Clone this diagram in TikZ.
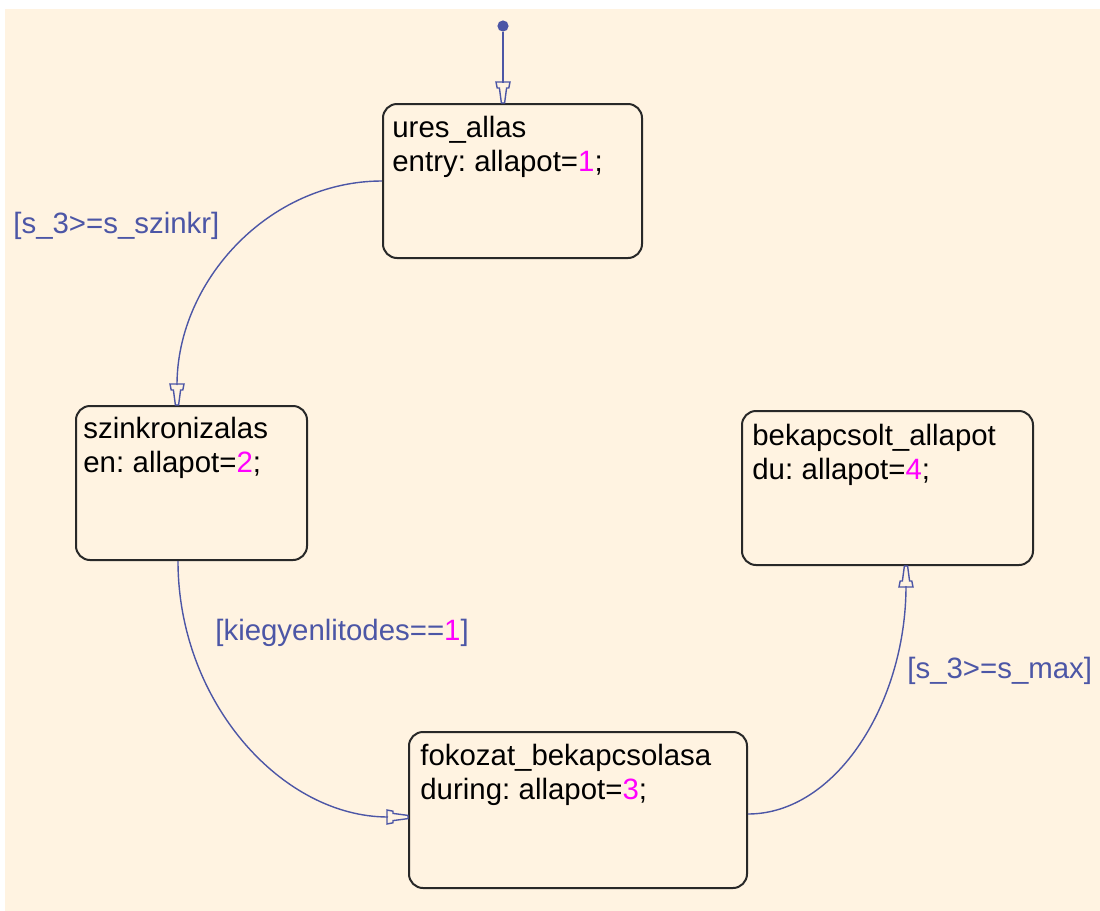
\documentclass[tikz,border=0pt]{standalone}
\usepackage{fontspec}
\setmainfont[WordSpace=0.7]{Liberation Sans}
\usetikzlibrary{calc}
\definecolor{bgc}{RGB}{255,243,225}
\definecolor{transc}{RGB}{76,86,166}
\definecolor{borderc}{RGB}{40,40,40}
\definecolor{magc}{RGB}{255,0,255}
\pgfdeclarearrow{
  name = Funnel,
  setup code = {
    \pgfarrowssettipend{0pt}
    \pgfarrowssetlineend{-10pt}
    \pgfarrowssetbackend{-10.5pt}
    \pgfarrowshullpoint{0pt}{0pt}
    \pgfarrowsupperhullpoint{-10.5pt}{3.5pt}
  },
  drawing code = {
    \pgfsetdash{}{0pt}
    \pgfpathmoveto{\pgfqpoint{0pt}{0.8pt}}
    \pgfpathlineto{\pgfqpoint{-7.5pt}{1.8pt}}
    \pgfpathlineto{\pgfqpoint{-7.5pt}{2.9pt}}
    \pgfpathlineto{\pgfqpoint{-10.5pt}{3.5pt}}
    \pgfpathlineto{\pgfqpoint{-10.5pt}{-3.5pt}}
    \pgfpathlineto{\pgfqpoint{-7.5pt}{-2.9pt}}
    \pgfpathlineto{\pgfqpoint{-7.5pt}{-1.8pt}}
    \pgfpathlineto{\pgfqpoint{0pt}{-0.8pt}}
    \pgfpathclose
    \pgfusepathqstroke
  }
}
\begin{document}
\begin{tikzpicture}[x=0.5pt,y=-0.5pt,
  font=\fontsize{14.7pt}{17pt}\selectfont,
  statebox/.style={draw=borderc, line width=1pt, rounded corners=7pt,
    inner sep=0pt, anchor=north west, fill=bgc},
  stline/.style={anchor=base west, inner sep=0pt, text=black},
  trans/.style={draw=transc, line width=0.7pt, -Funnel},
  guard/.style={anchor=base west, inner sep=0pt, text=transc},
  initdot/.style={circle, fill=transc, inner sep=0pt, minimum size=5.6pt}]
\useasboundingbox (0,0) rectangle (1100,911);
\fill[bgc] (5,9) rectangle (1100,911);

% states
\node[statebox, minimum width=129.5pt, minimum height=77pt] (ures) at (382,103) {};
\node[statebox, minimum width=115.5pt, minimum height=77pt] (szink) at (75,405) {};
\node[statebox, minimum width=145.5pt, minimum height=77pt] (bek) at (741,410) {};
\node[statebox, minimum width=169pt, minimum height=78pt] (fok) at (408,731) {};

% state texts
\node[stline] (ures-n) at (392,137) {ures\_allas};
\node[stline] (ures-a) at (392,171) {entry: allapot=\textcolor{magc}{1};};
\node[stline] (szink-n) at (83,438) {szinkronizalas};
\node[stline] (szink-a) at (83,472) {en: allapot=\textcolor{magc}{2};};
\node[stline] (bek-n) at (752,445) {bekapcsolt\_allapot};
\node[stline] (bek-a) at (752,479) {du: allapot=\textcolor{magc}{4};};
\node[stline] (fok-n) at (420,765) {fokozat\_bekapcsolasa};
\node[stline] (fok-a) at (420,799) {during: allapot=\textcolor{magc}{3};};

% default transition
\node[initdot] (init) at (503,26) {};
\draw[trans] (init) -- ($(ures.north west)+(121,0)$);

% transitions
\draw[trans] (ures.west) .. controls +(-113,0) and +(0,-124) .. ($(szink.north west)+(102,0)$);
\draw[trans] ($(szink.south west)+(103,0)$) .. controls +(0,141) and +(-126,0) .. ($(fok.north west)+(0,86)$);
\draw[trans] ($(fok.north east)+(0,83)$) .. controls +(88,0) and +(0,137) .. ($(bek.south west)+(165,0)$);

% guards
\node[guard] (g1) at (13,233) {[s\_3>=s\_szinkr]};
\node[guard] (g2) at (215,640) {[kiegyenlitodes==\textcolor{magc}{1}]};
\node[guard] (g3) at (907,678) {[s\_3>=s\_max]};
\end{tikzpicture}
\end{document}
